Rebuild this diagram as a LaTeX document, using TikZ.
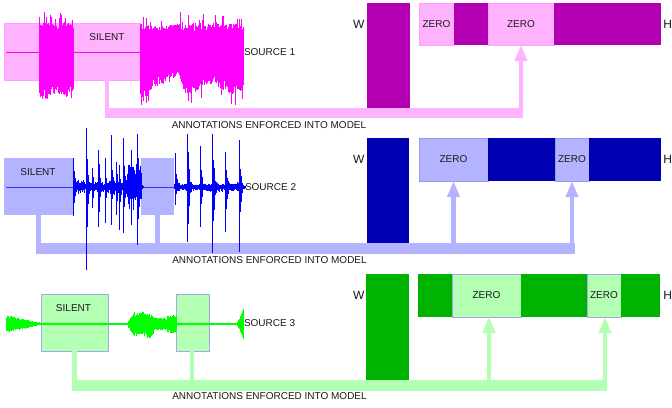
\documentclass[tikz,border=0pt]{standalone}
\usepackage{fontspec}
\setmainfont{Liberation Sans}
\usetikzlibrary{arrows.meta}
\definecolor{txt}{HTML}{1A1A1A}
\definecolor{pinkL}{HTML}{FFB3FF}
\definecolor{pinkB}{HTML}{FFA0FF}
\definecolor{pinkD}{HTML}{B300B3}
\definecolor{pinkW}{HTML}{FF00FF}
\definecolor{blueL}{HTML}{B3B3FF}
\definecolor{blueB}{HTML}{9999F5}
\definecolor{blueD}{HTML}{0000B3}
\definecolor{blueW}{HTML}{0000FF}
\definecolor{blueM}{HTML}{3333FF}
\definecolor{greenL}{HTML}{B3FFB3}
\definecolor{greenB}{HTML}{A6A6F0}
\definecolor{greenD}{HTML}{00B300}
\definecolor{greenW}{HTML}{00FF00}
\tikzset{
  box/.style={inner sep=0pt, outer sep=0pt, anchor=north west, line width=0.6pt, font=\fontsize{10}{12}\selectfont, text=txt},
  lbl/.style={inner sep=0pt, outer sep=0pt, font=\fontsize{10}{12}\selectfont, text=txt},
  biglbl/.style={inner sep=0pt, outer sep=0pt, font=\fontsize{12}{14}\selectfont, text=txt},
  stem/.style={line width=4.5pt, line cap=butt},
  tip/.style={-{Triangle[width=12pt,length=16pt]}},
  wave/.style={line width=0.6pt},
  midline/.style={line width=0.9pt},
}
\begin{document}
\begin{tikzpicture}[x=1pt,y=-1pt]
\useasboundingbox (0,0) rectangle (672,407);
\pgfmathsetseed{17}

% ================= ROW 1 (pink) =================
\node[box, fill=pinkL, draw=pinkB, minimum width=136pt, minimum height=57pt] (s11) at (4,23) {};
\node[box, fill=pinkD, minimum width=43pt, minimum height=105pt] (w1) at (367,3) {};
\node[box, fill=pinkL, draw=pinkB, minimum width=35pt, minimum height=42pt] (z11) at (419,3) {ZERO};
\node[box, fill=pinkD, minimum width=34pt, minimum height=42pt] (d11) at (454,3) {};
\node[box, fill=pinkL, draw=pinkB, minimum width=66pt, minimum height=42pt] (z12) at (488,3) {ZERO};
\node[box, fill=pinkD, minimum width=107pt, minimum height=42pt] (d12) at (554,3) {};
\node[biglbl] (wl1) at (358.7,24) {W};
\node[biglbl, anchor=east] (hl1) at (672,24) {H};
% connector
\node[box, fill=pinkL, minimum width=417.7pt, minimum height=10pt] (bar1) at (105,108.3) {};
\coordinate (a11) at (107.2,0);
\draw[stem, pinkL] (s11.south -| a11) -- (bar1.north -| a11);
\draw[stem, tip, pinkL] (bar1.center -| z12.south) -- (z12.south);
\node[lbl] (an1) at (269,125) {ANNOTATIONS ENFORCED INTO MODEL};
% waveform
\draw[midline, pinkW] (6,52) -- (140,52);
\foreach \xa/\xb/\ua/\ub/\da/\db in {39/45/30/30/46/50, 45/55/30/28/50/40, 55/65/28/30/40/47, 65/73/30/28/47/40,
   140/148/28/30/48/52, 148/152/30/27/52/36, 152/163/27/26/36/33, 163/170/26/27/33/25, 170/180/27/30/25/27,
   180/185/30/27/27/42, 185/198/27/30/42/40, 198/205/30/28/40/32, 205/215/28/30/32/33, 215/222/30/29/33/38,
   222/235/29/28/38/44, 235/243/28/26/44/38}{
  \pgfmathtruncatemacro\nn{(\xb-\xa)*2}
  \foreach \i in {0,...,\nn}{
    \pgfmathsetmacro\xpos{\xa+\i*0.5}
    \pgfmathsetmacro\frc{\i/\nn}
    \pgfmathsetmacro\ampU{(\ua+(\ub-\ua)*\frc)*(0.72+0.28*rnd)*(rnd<0.08 ? 1.35 : 1)}
    \pgfmathsetmacro\ampD{(\da+(\db-\da)*\frc)*(0.72+0.28*rnd)*(rnd<0.06 ? 1.3 : 1)}
    \draw[wave, pinkW] (\xpos,52-\ampU) -- (\xpos,52+\ampD);
  }
}
\node[lbl] (sl1) at (107,37.5) {SILENT};
\node[lbl, anchor=west] (src1) at (244,52) {SOURCE 1};

% ================= ROW 2 (blue) =================
\node[box, fill=blueL, minimum width=69pt, minimum height=57pt] (s21) at (4,158) {};
\node[box, fill=blueL, minimum width=33pt, minimum height=57pt] (s22) at (141,158) {};
\node[box, fill=blueD, minimum width=42pt, minimum height=106pt] (w2) at (367,138) {};
\node[box, fill=blueL, draw=blueB, minimum width=69pt, minimum height=43pt] (z21) at (419,138) {ZERO};
\node[box, fill=blueD, minimum width=67pt, minimum height=43pt] (d21) at (488,138) {};
\node[box, fill=blueL, draw=blueB, minimum width=34pt, minimum height=43pt] (z22) at (555,138) {ZERO};
\node[box, fill=blueD, minimum width=72pt, minimum height=43pt] (d22) at (589,138) {};
\node[biglbl] (wl2) at (358.7,159.5) {W};
\node[biglbl, anchor=east] (hl2) at (672,159.5) {H};
% connector
\node[box, fill=blueL, minimum width=538.5pt, minimum height=10.7pt] (bar2) at (36,243.3) {};
\coordinate (a21) at (38.5,0);
\coordinate (a22) at (157.5,0);
\draw[stem, blueL] (s21.south -| a21) -- (bar2.north -| a21);
\draw[stem, blueL] (s22.south -| a22) -- (bar2.north -| a22);
\draw[stem, tip, blueL] (bar2.center -| z21.south) -- (z21.south);
\draw[stem, tip, blueL] (bar2.center -| z22.south) -- (z22.south);
\node[lbl] (an2) at (269.5,260) {ANNOTATIONS ENFORCED INTO MODEL};
% waveform
\draw[midline, blueM] (6,187) -- (243,187);
\foreach \x in {73,73.5,...,141}{
  \pgfmathsetmacro\ampU{2+6*rnd*rnd}
  \pgfmathsetmacro\ampD{2+6*rnd*rnd}
  \draw[wave, blueW] (\x,187-\ampU) -- (\x,187+\ampD);
}
\foreach \x in {174,174.5,...,243}{
  \pgfmathsetmacro\ampU{1.5+4*rnd*rnd}
  \pgfmathsetmacro\ampD{1.5+4*rnd*rnd}
  \draw[wave, blueW] (\x,187-\ampU) -- (\x,187+\ampD);
}
\foreach \x in {127,127.5,...,141}{
  \pgfmathsetmacro\ampU{10+18*rnd*rnd}
  \pgfmathsetmacro\ampD{9+18*rnd*rnd}
  \draw[wave, blueW] (\x,187-\ampU) -- (\x,187+\ampD);
}
\foreach \sx/\st/\sb in {73.5/158/216, 86/128/270, 92/168/208, 98.3/150/227, 105/158/223, 111/135/225, 116/162/215, 119/165/230, 123.3/138/233, 131/150/225, 137.3/134/245, 175/153/205, 187.3/134/242, 200/146/227, 212.7/134/253, 225.7/152/232, 239/140/252}{
  \draw[wave, blueW, line width=0.9pt] (\sx,\st) -- (\sx,\sb);
  \foreach \kk in {1,...,12}{
    \pgfmathsetmacro\ffac{exp(-\kk/3)*(0.45+0.55*rnd)}
    \pgfmathsetmacro\xx{\sx+0.5*\kk}
    \draw[wave, blueW] (\xx,{187-(187-\st)*\ffac}) -- (\xx,{187+(\sb-187)*\ffac});
  }
}
\node[lbl] (sl2) at (38,172) {SILENT};
\node[lbl, anchor=west] (src2) at (245,187) {SOURCE 2};

% ================= ROW 3 (green) =================
\node[box, fill=greenL, draw=greenB, minimum width=67pt, minimum height=57pt] (s31) at (41,294) {};
\node[box, fill=greenL, draw=greenB, minimum width=33pt, minimum height=57pt] (s32) at (176,294) {};
\node[box, fill=greenD, minimum width=43pt, minimum height=106pt] (w3) at (366,274) {};
\node[box, fill=greenD, minimum width=34pt, minimum height=43pt] (d31) at (418,274) {};
\node[box, fill=greenL, draw=greenB, minimum width=69pt, minimum height=43pt] (z31) at (452,274) {ZERO};
\node[box, fill=greenD, minimum width=66pt, minimum height=43pt] (d32) at (521,274) {};
\node[box, fill=greenL, draw=greenB, minimum width=34pt, minimum height=43pt] (z32) at (587,274) {ZERO};
\node[box, fill=greenD, minimum width=39pt, minimum height=43pt] (d33) at (621,274) {};
\node[biglbl] (wl3) at (358.7,295.5) {W};
\node[biglbl, anchor=east] (hl3) at (672,295.5) {H};
% connector
\node[box, fill=greenL, minimum width=535pt, minimum height=10.7pt] (bar3) at (72,380) {};
\coordinate (a31) at (74.5,0);
\coordinate (a32) at (192,0);
\coordinate (a33) at (489,0);
\coordinate (a34) at (605,0);
\draw[stem, greenL] (s31.south -| a31) -- (bar3.north -| a31);
\draw[stem, greenL] (s32.south -| a32) -- (bar3.north -| a32);
\draw[stem, tip, greenL] (bar3.center -| a33) -- (z31.south -| a33);
\draw[stem, tip, greenL] (bar3.center -| a34) -- (z32.south -| a34);
\node[lbl] (an3) at (269.5,396.5) {ANNOTATIONS ENFORCED INTO MODEL};
% waveform
\draw[midline, greenW, line width=1.3pt] (6,324) -- (243,324);
\foreach \x in {6,6.5,...,41}{
  \pgfmathsetmacro\ampU{9*(1-(\x-6)/40)*(0.65+0.35*rnd)}
  \pgfmathsetmacro\ampD{9*(1-(\x-6)/40)*(0.65+0.35*rnd)}
  \draw[wave, greenW] (\x,324-\ampU) -- (\x,324+\ampD);
}
\foreach \x in {128,128.5,...,176}{
  \pgfmathsetmacro\env{\x<133 ? 3+8*(\x-128)/5 : (\x<148 ? 12 : (\x<154 ? 12-5*(\x-148)/6 : (\x<167 ? 6.5 : 9)))}
  \pgfmathsetmacro\ampU{\env*(0.6+0.4*rnd)}
  \pgfmathsetmacro\ampD{(\x>146 && \x<154 ? 1.4 : 1)*\env*(0.6+0.4*rnd)}
  \draw[wave, greenW] (\x,324-\ampU) -- (\x,324+\ampD);
}
\foreach \x in {235,235.5,...,243}{
  \pgfmathsetmacro\ampU{1+14*((\x-235)/8)^2}
  \draw[wave, greenW] (\x,324-\ampU) -- (\x,324+\ampU);
}
\node[lbl] (sl3) at (73.5,308) {SILENT};
\node[lbl, anchor=west] (src3) at (244,323) {SOURCE 3};
\end{tikzpicture}
\end{document}
